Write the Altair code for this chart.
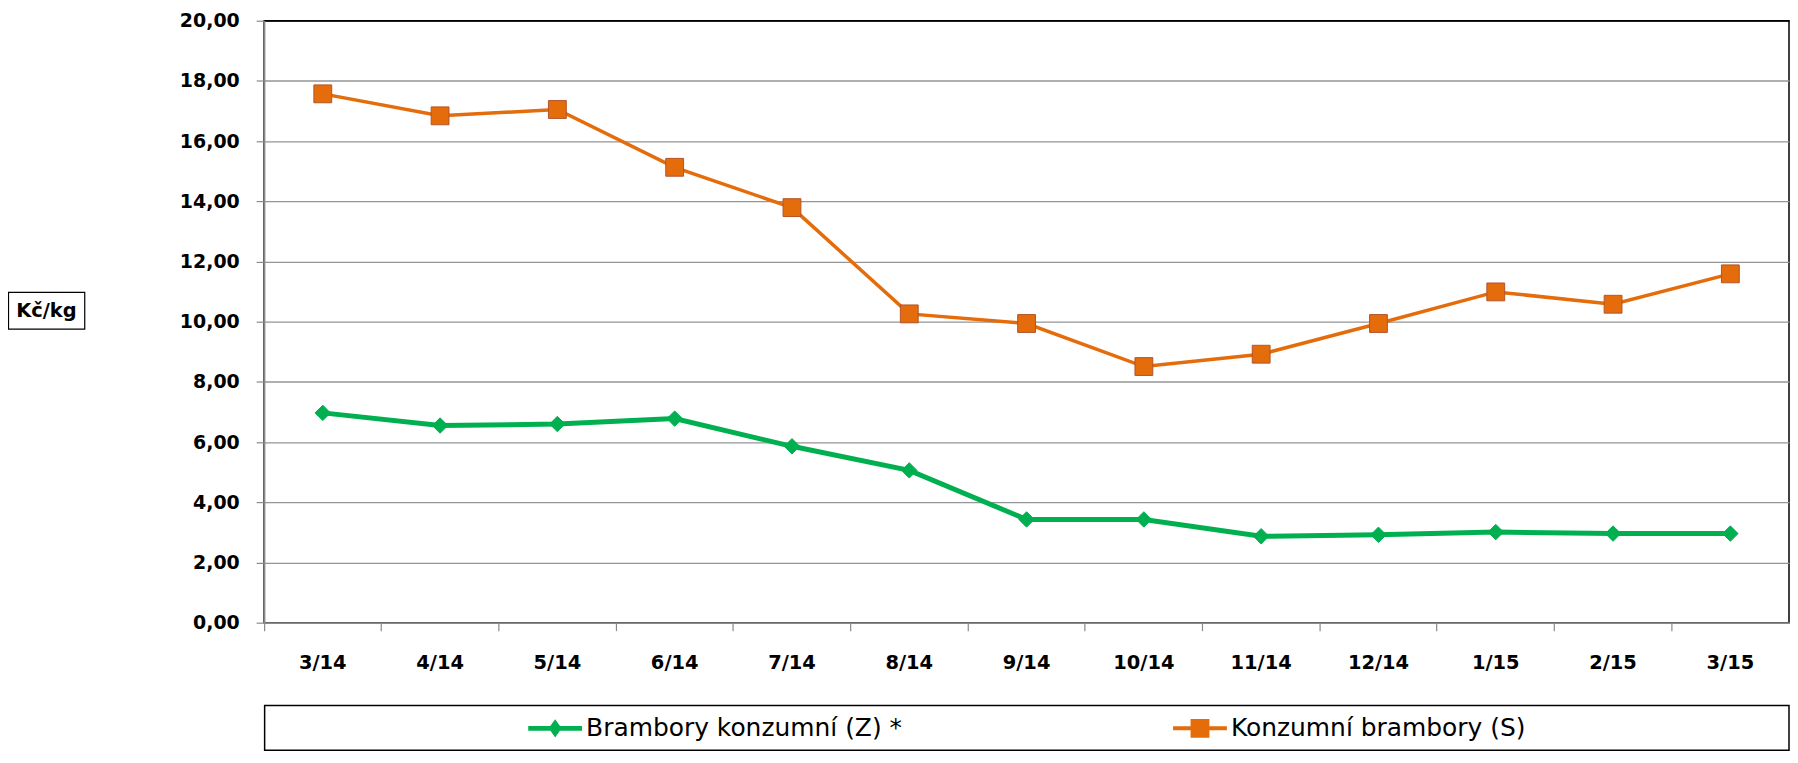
import altair as alt
import pandas as pd

# ---- data ----
months = ["3/14", "4/14", "5/14", "6/14", "7/14", "8/14", "9/14",
          "10/14", "11/14", "12/14", "1/15", "2/15", "3/15"]
series_names = ["Brambory konzumní (Z) *", "Konzumní brambory (S)"]
brambory_z = [6.97, 6.55, 6.60, 6.78, 5.86, 5.06, 3.43, 3.43, 2.87, 2.92, 3.01, 2.96, 2.96]
brambory_s = [17.57, 16.84, 17.05, 15.13, 13.79, 10.26, 9.94, 8.51, 8.92, 9.94, 10.99, 10.58, 11.59]
y_ticks = [0, 2, 4, 6, 8, 10, 12, 14, 16, 18, 20]
unit_label = "Kč/kg"

# ---- styles ----
line_colors = ["#00B050", "#E46C0A"]
marker_borders = ["#00B050", "#B4532A"]
marker_shapes = ["diamond", "square"]
marker_sizes = [240, 320]
line_widths = [5, 3.5]
legend_paths = [
    "M-1,-0.09H1V0.09H-1Z M0,-0.34L0.24,0L0,0.34L-0.24,0Z",
    "M-1,-0.075H1V0.075H-1Z M-0.35,-0.35H0.35V0.35H-0.35Z",
]
FONT = "DejaVu Sans"
GRID = "#959595"
W, H = 1530, 604

records = []
for name, vals in zip(series_names, [brambory_z, brambory_s]):
    for m, v in zip(months, vals):
        records.append({"month": m, "series": name, "value": v})
df = pd.DataFrame(records)

x_enc = alt.X(
    "month:N", sort=months,
    scale=alt.Scale(type="band", paddingInner=0, paddingOuter=0),
    axis=alt.Axis(title=None, labelAngle=0, bandPosition=0, tickSize=8,
                  tickColor="#8a8a8a", tickWidth=1.2, domainColor="#8a8a8a",
                  domainWidth=1.5, labelFont=FONT, labelFontWeight="bold",
                  labelFontSize=19.5, labelColor="#000", labelPadding=23, grid=False),
)
y_enc = alt.Y(
    "value:Q",
    scale=alt.Scale(domain=[0, 20], nice=False, zero=True),
    axis=alt.Axis(values=y_ticks,
                  labelExpr="replace(format(datum.value, '.2f'), '.', ',')",
                  title=unit_label, titleAngle=0, titleX=-219, titleY=291,
                  titleAlign="center", titleBaseline="middle", titleFont=FONT,
                  titleFontWeight="bold", titleFontSize=19.5, titleColor="#000",
                  tickSize=8, tickColor="#8a8a8a", tickWidth=1.2,
                  domainColor="#8a8a8a", domainWidth=1.5,
                  labelFont=FONT, labelFontWeight="bold", labelFontSize=19,
                  labelColor="#000", labelPadding=17,
                  grid=True,
                  gridColor={"condition": {"test": "datum.value === 20", "value": "#000"},
                             "value": GRID},
                  gridWidth=1.3),
)

layers = []
for i, name in enumerate(series_names):
    base = alt.Chart(df).transform_filter(alt.datum.series == name)
    layers.append(base.mark_line(color=line_colors[i], strokeWidth=line_widths[i]).encode(x=x_enc, y=y_enc))
for i, name in enumerate(series_names):
    base = alt.Chart(df).transform_filter(alt.datum.series == name)
    layers.append(base.mark_point(filled=True, shape=marker_shapes[i], size=marker_sizes[i],
                                  color=line_colors[i], stroke=marker_borders[i],
                                  strokeWidth=1, opacity=1).encode(x=x_enc, y=y_enc))

legend = alt.Legend(title=None, orient="none", legendX=265, legendY=683,
                    direction="horizontal", symbolSize=2916, symbolStrokeWidth=0,
                    labelFont=FONT, labelFontSize=25, labelColor="#000",
                    labelLimit=800, labelOffset=4, columnPadding=271, padding=0,
                    symbolOpacity=1)
legend_layer = alt.Chart(df).mark_point(filled=True, size=2916, opacity=1, clip=True).encode(
    x=alt.value(-2000), y=alt.value(-2000),
    color=alt.Color("series:N", scale=alt.Scale(domain=series_names, range=line_colors), legend=legend),
    shape=alt.Shape("series:N", scale=alt.Scale(domain=series_names, range=legend_paths), legend=legend),
)
layers.append(legend_layer)

frame = alt.Chart(alt.Data(values=[{}])).mark_rect(fillOpacity=0, stroke="#000", strokeWidth=1.5).encode(
    x=alt.value(0.5), x2=alt.value(W), y=alt.value(687), y2=alt.value(732))
unit_box = alt.Chart(alt.Data(values=[{}])).mark_rect(fillOpacity=0, stroke="#000", strokeWidth=1.2).encode(
    x=alt.value(-256.5), x2=alt.value(-180), y=alt.value(272.5), y2=alt.value(309.5))

chart = alt.layer(frame, unit_box, *layers).properties(
    width=W, height=H,
    padding={"left": 257, "top": 11.5, "right": 1, "bottom": 129.5},
    autosize=alt.AutoSizeParams(type="none"),
).configure_view(stroke="#000", strokeWidth=1.5)

chart.save("out.html", embed_options={"renderer": "svg", "actions": False})
